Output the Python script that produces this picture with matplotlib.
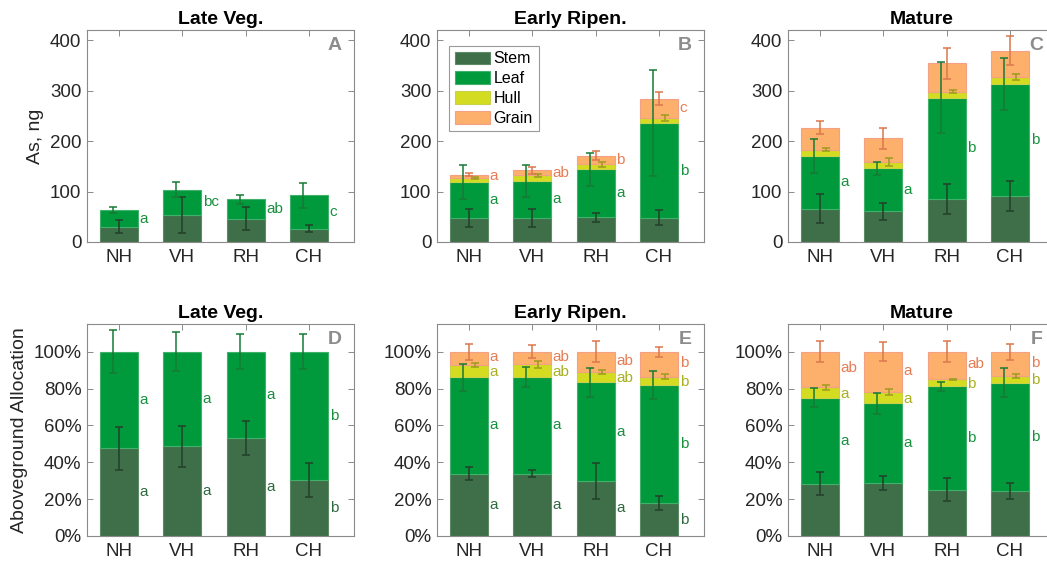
import numpy as np
import matplotlib.pyplot as plt

plt.rcParams['font.family'] = ['Liberation Sans', 'DejaVu Sans']

sites = ['NH', 'VH', 'RH', 'CH']
stages = ['Late Veg.', 'Early Ripen.', 'Mature']

# As mass per tissue, ng (segment heights, stacked stem -> leaf -> hull -> grain)
lv_stem = [30, 54, 46, 26.5]
lv_leaf = [33, 50, 39, 66]
lv_stem_err = [13, 36, 23, 7]
lv_leaf_err = [6.5, 14.5, 9, 25]

er_stem = [48, 48, 49, 48]
er_leaf = [71, 73, 95, 187]
er_hull = [8, 11, 10, 11]
er_grain = [6, 10, 17, 38]
er_stem_err = [17.5, 18, 9, 15]
er_leaf_err = [33, 32.5, 33, 105]
er_hull_err = [1.5, 3, 5, 5.5]
er_grain_err = [3, 6.5, 9, 13]

mt_stem = [66, 61, 85, 91]
mt_leaf = [105, 85, 201, 222]
mt_hull = [12, 12.5, 12, 13]
mt_grain = [43.5, 47, 56, 53]
mt_stem_err = [29, 17, 30, 29.5]
mt_leaf_err = [34, 13, 70, 52]
mt_hull_err = [3, 8, 3.6, 6]
mt_grain_err = [13, 21, 31, 29]

# aboveground allocation, %
lv_stem_pct = [47.5, 48.6, 53.3, 30.6]
lv_leaf_pct = [52.5, 51.4, 46.7, 69.4]
lv_stem_pct_err = [11.8, 10.9, 9.3, 9.2]
lv_leaf_pct_err = [11.7, 10.7, 9.4, 9.4]

er_stem_pct = [33.9, 33.9, 29.9, 17.9]
er_leaf_pct = [52.1, 52.5, 53.4, 64.0]
er_hull_pct = [6.8, 6.7, 5.8, 4.5]
er_grain_pct = [7.2, 6.9, 10.9, 13.6]
er_stem_pct_err = [3.6, 2.0, 9.9, 3.9]
er_leaf_pct_err = [7.3, 5.4, 7.8, 7.5]
er_hull_pct_err = [1.1, 1.8, 1.1, 1.3]
er_grain_pct_err = [4.4, 3.4, 5.7, 2.7]

mt_stem_pct = [28.4, 28.8, 25.2, 24.3]
mt_leaf_pct = [46.6, 43.1, 56.1, 58.9]
mt_hull_pct = [5.6, 6.2, 3.8, 3.6]
mt_grain_pct = [19.4, 21.9, 14.9, 13.2]
mt_stem_pct_err = [6.2, 3.9, 6.4, 4.5]
mt_leaf_pct_err = [5.1, 5.6, 2.4, 7.7]
mt_hull_pct_err = [1.4, 1.7, 0.3, 0.9]
mt_grain_pct_err = [5.8, 5.3, 5.6, 4.3]

# significance letters
a_leaf_let = ['a', 'bc', 'ab', 'c']
b_leaf_let = ['a', 'a', 'a', 'b']
b_grain_let = ['a', 'ab', 'b', 'c']
c_leaf_let = ['a', 'a', 'b', 'b']
d_stem_let = ['a', 'a', 'a', 'b']
d_leaf_let = ['a', 'a', 'a', 'b']
e_stem_let = ['a', 'a', 'a', 'b']
e_leaf_let = ['a', 'a', 'a', 'b']
e_hull_let = ['a', 'ab', 'ab', 'b']
e_grain_let = ['a', 'ab', 'ab', 'b']
f_leaf_let = ['a', 'a', 'b', 'b']
f_hull_let = ['a', 'a', 'b', 'b']
f_grain_let = ['ab', 'a', 'ab', 'b']

tissues = ['Stem', 'Leaf', 'Hull', 'Grain']
face = {'Stem': '#3e6f48', 'Leaf': '#009a3d', 'Hull': '#d4dc22', 'Grain': '#fdb06b'}
edge = {'Stem': '#5f8a68', 'Leaf': '#40b06a', 'Hull': '#c9d04a', 'Grain': '#f3a184'}
ecol = {'Stem': '#22402a', 'Leaf': '#177a34', 'Hull': '#9c9b1e', 'Grain': '#da774c'}
tcol = {'Stem': '#2f6a3e', 'Leaf': '#18913f', 'Hull': '#a8b020', 'Grain': '#e67d55'}
shift = {'Stem': 0.0, 'Leaf': -0.09, 'Hull': 0.095, 'Grain': 0.0}
# letters of thin upper segments are pushed apart a little so they stay readable
nudge = {'Stem': 0.0, 'Leaf': 0.0, 'Hull': -0.6, 'Grain': 0.6}

W, H = 1047, 563
fig = plt.figure(figsize=(W / 100, H / 100), dpi=100)

lefts = [87, 437, 788]
tops = [30, 324]
aw, ah = 267, 212


def make_ax(col, row):
    return fig.add_axes([lefts[col] / W, (H - tops[row] - ah) / H, aw / W, ah / H])


def stacked(ax, parts, errs, letters, pct=False):
    x = np.arange(1, 5)
    bottom = np.zeros(4)
    top = {}
    mid = {}
    for t in tissues:
        if t not in parts:
            continue
        v = np.array(parts[t], dtype=float)
        ax.bar(x, v, 0.6, bottom=bottom, color=face[t], edgecolor=edge[t], linewidth=0.8, zorder=2)
        mid[t] = bottom + v / 2
        bottom = bottom + v
        top[t] = bottom.copy()
    for t, e in errs.items():
        ax.errorbar(x + shift[t], top[t], yerr=e, fmt='none', ecolor=ecol[t],
                    capsize=3.2, elinewidth=1.1, capthick=1.1, zorder=3)
    for t, labs in letters.items():
        dy = nudge[t] if pct else 0.0
        for xi, yi, s in zip(x, mid[t], labs):
            ax.text(xi + 0.325, yi + dy, s, color=tcol[t], fontsize=11, ha='left', va='center')


def style(ax, title, tag, ymax, pct):
    ax.set_xlim(0.5, 4.71)
    ax.set_ylim(0, ymax)
    ax.set_xticks(np.arange(1, 5))
    ax.set_xticklabels(sites)
    if pct:
        ax.set_yticks(np.arange(0, 101, 20))
        ax.set_yticklabels([f'{v}%' for v in range(0, 101, 20)])
    else:
        ax.set_yticks(np.arange(0, 401, 100))
    ax.tick_params(direction='in', top=True, right=True, length=4, width=0.6,
                   color='#777777', labelcolor='#262626', labelsize=13.5)
    ax.tick_params(axis='x', pad=5)
    ax.tick_params(axis='y', pad=4)
    for s in ax.spines.values():
        s.set_color('#8a8a8a')
        s.set_linewidth(0.8)
    ax.set_title(title, fontsize=14, fontweight='bold', pad=4)
    ax.text(0.955, 0.965, tag, transform=ax.transAxes, ha='right', va='top',
            fontsize=14, fontweight='bold', color='#8c8c8c')


# top row: As mass
ax = make_ax(0, 0)
stacked(ax, {'Stem': lv_stem, 'Leaf': lv_leaf},
        {'Stem': lv_stem_err, 'Leaf': lv_leaf_err},
        {'Leaf': a_leaf_let})
style(ax, stages[0], 'A', 420, False)
ax.set_ylabel('As, ng', fontsize=14, color='#262626')

ax = make_ax(1, 0)
stacked(ax, {'Stem': er_stem, 'Leaf': er_leaf, 'Hull': er_hull, 'Grain': er_grain},
        {'Stem': er_stem_err, 'Leaf': er_leaf_err, 'Hull': er_hull_err, 'Grain': er_grain_err},
        {'Leaf': b_leaf_let, 'Grain': b_grain_let})
style(ax, stages[1], 'B', 420, False)
leg = ax.legend(tissues, loc='upper left', bbox_to_anchor=(0.045, 0.925), fontsize=11.5,
                handlelength=2.2, handleheight=0.85, handletextpad=0.25, labelspacing=0.3,
                borderpad=0.35, borderaxespad=0, fancybox=False, framealpha=1)
leg.get_frame().set_edgecolor('#9a9a9a')
leg.get_frame().set_linewidth(0.8)

ax = make_ax(2, 0)
stacked(ax, {'Stem': mt_stem, 'Leaf': mt_leaf, 'Hull': mt_hull, 'Grain': mt_grain},
        {'Stem': mt_stem_err, 'Leaf': mt_leaf_err, 'Hull': mt_hull_err, 'Grain': mt_grain_err},
        {'Leaf': c_leaf_let})
style(ax, stages[2], 'C', 420, False)

# bottom row: allocation
ax = make_ax(0, 1)
stacked(ax, {'Stem': lv_stem_pct, 'Leaf': lv_leaf_pct},
        {'Stem': lv_stem_pct_err, 'Leaf': lv_leaf_pct_err},
        {'Stem': d_stem_let, 'Leaf': d_leaf_let}, pct=True)
style(ax, stages[0], 'D', 115, True)
ax.set_ylabel('Aboveground Allocation', fontsize=14, color='#262626')

ax = make_ax(1, 1)
stacked(ax, {'Stem': er_stem_pct, 'Leaf': er_leaf_pct, 'Hull': er_hull_pct, 'Grain': er_grain_pct},
        {'Stem': er_stem_pct_err, 'Leaf': er_leaf_pct_err, 'Hull': er_hull_pct_err, 'Grain': er_grain_pct_err},
        {'Stem': e_stem_let, 'Leaf': e_leaf_let, 'Hull': e_hull_let, 'Grain': e_grain_let}, pct=True)
style(ax, stages[1], 'E', 115, True)

ax = make_ax(2, 1)
stacked(ax, {'Stem': mt_stem_pct, 'Leaf': mt_leaf_pct, 'Hull': mt_hull_pct, 'Grain': mt_grain_pct},
        {'Stem': mt_stem_pct_err, 'Leaf': mt_leaf_pct_err, 'Hull': mt_hull_pct_err, 'Grain': mt_grain_pct_err},
        {'Leaf': f_leaf_let, 'Hull': f_hull_let, 'Grain': f_grain_let}, pct=True)
style(ax, stages[2], 'F', 115, True)

fig.savefig('out.png', dpi=100)
